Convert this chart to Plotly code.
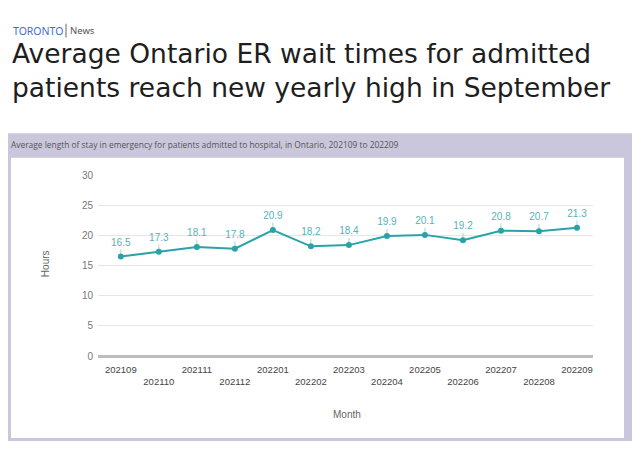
import plotly.graph_objects as go

months = ["202109", "202110", "202111", "202112", "202201", "202202", "202203",
          "202204", "202205", "202206", "202207", "202208", "202209"]
hours = [16.5, 17.3, 18.1, 17.8, 20.9, 18.2, 18.4, 19.9, 20.1, 19.2, 20.8, 20.7, 21.3]
y_ticks = [0, 5, 10, 15, 20, 25, 30]

# page is drawn inside the default 8px body margin
OFF = 8
W, H = 643 - 2 * OFF, 455 - 2 * OFF
def px(x):
    return (x - OFF) / W
def py(y):
    return 1 - (y - OFF) / H

idx = list(range(len(months)))
ticktext = [m if i % 2 == 0 else "<br>" + m for i, m in enumerate(months)]

teal = "#2aa3a8"
fig = go.Figure()
fig.add_trace(go.Scatter(
    x=idx, y=hours, mode="lines+markers",
    line=dict(color=teal, width=2),
    marker=dict(color=teal, size=6),
    error_y=dict(type="data", symmetric=False, array=[1.2] * len(hours),
                 arrayminus=[0] * len(hours), color="#a8d3d6", thickness=1, width=0),
    hoverinfo="skip", showlegend=False,
))
fig.add_trace(go.Scatter(
    x=idx, y=hours, mode="markers+text",
    marker=dict(color="rgba(0,0,0,0)", size=12),
    text=[f"{v:.1f}" for v in hours],
    textposition="top center",
    textfont=dict(family="Arial", size=10, color="#55b3b8"),
    hoverinfo="skip", cliponaxis=False, showlegend=False,
))

shapes = [
    dict(type="rect", xref="paper", yref="paper", x0=px(8), x1=px(632), y0=py(446), y1=py(131),
         fillcolor="#cac7dc", line=dict(width=0), layer="below"),
    dict(type="rect", xref="paper", yref="paper", x0=px(11), x1=px(624), y0=py(443), y1=py(156),
         fillcolor="white", line=dict(width=0), layer="below"),
    dict(type="line", xref="paper", yref="paper", x0=px(66), x1=px(66), y0=py(19), y1=py(33),
         line=dict(color="#666", width=1)),
]

annotations = [
    dict(text="TORONTO", x=px(11), y=py(26), xref="paper", yref="paper", xanchor="left",
         yanchor="middle", showarrow=False, font=dict(family="Noto Sans", size=10.5, color="#3b6fd1")),
    dict(text="News", x=px(68), y=py(26), xref="paper", yref="paper", xanchor="left",
         yanchor="middle", showarrow=False, font=dict(family="Noto Sans", size=9.5, color="#555")),
    dict(text="Average Ontario ER wait times for admitted<br>patients reach new yearly high in September",
         x=px(10), y=py(67), xref="paper", yref="paper", xanchor="left", yanchor="middle",
         align="left", showarrow=False,
         font=dict(family="DejaVu Sans", size=26.5, color="#1e1e1e")),
    dict(text="Average length of stay in emergency for patients admitted to hospital, in Ontario, 202109 to 202209",
         x=px(9), y=py(143), xref="paper", yref="paper", xanchor="left", yanchor="middle",
         showarrow=False, font=dict(family="Open Sans", size=8.4, color="#555")),
    dict(text="Hours", x=px(45), y=py(265), xref="paper", yref="paper", textangle=-90,
         xanchor="center", yanchor="middle", showarrow=False,
         font=dict(family="Arial", size=10, color="#666")),
    dict(text="Month", x=px(347), y=py(419), xref="paper", yref="paper",
         xanchor="center", yanchor="middle", showarrow=False,
         font=dict(family="Arial", size=10, color="#666")),
]

fig.update_layout(
    width=W, height=H, margin=dict(l=0, r=0, t=0, b=0),
    paper_bgcolor="white", plot_bgcolor="rgba(0,0,0,0)",
    shapes=shapes, annotations=annotations,
    xaxis=dict(domain=[px(98), px(593)], range=[-0.6, 12.42],
               tickvals=idx, ticktext=ticktext, tickangle=0,
               tickfont=dict(family="Arial", size=9.5, color="#444"),
               showgrid=False, zeroline=False, showline=False, ticks="",
               ticklabelstandoff=6),
    yaxis=dict(domain=[py(359), py(174)], range=[0, 30], tickvals=y_ticks,
               tickfont=dict(family="Arial", size=10, color="#777"),
               gridcolor="#e6e6e6", gridwidth=1, zeroline=True, zerolinecolor="#bdbdbd",
               zerolinewidth=3, showline=False, ticks="", ticklabelstandoff=4),
)

fig.write_html("out.html")
